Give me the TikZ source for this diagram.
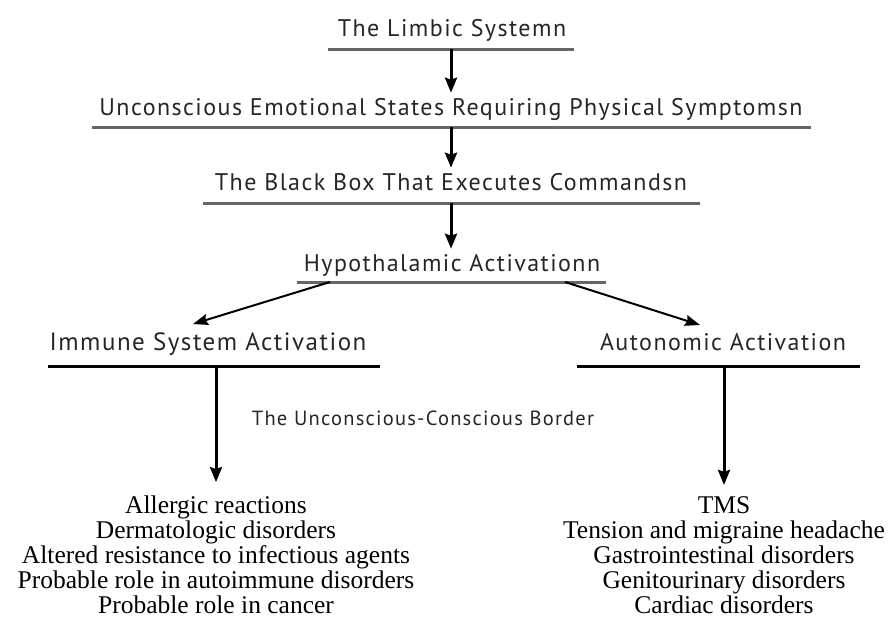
\documentclass[tikz,border=0pt]{standalone}
\usepackage{fontspec}
\setmainfont{Liberation Serif}
\newfontfamily\headfont[LetterSpace=6]{PT Sans}
\usetikzlibrary{arrows.meta,positioning}
\tikzset{
  head/.style={font=\headfont\fontsize{24}{28}\selectfont, inner sep=0pt, anchor=base, text=black!85},
  greybar/.style={line width=3pt, draw=black!60},
  blackbar/.style={line width=3pt, draw=black},
  flow/.style={line width=3pt, -{Stealth[length=15pt,width=12pt,inset=2pt]}},
  slant/.style={line width=2pt, -{Stealth[length=15pt,width=11pt,inset=2pt]}},
  effects/.style={font=\fontsize{25.5}{25}\selectfont, align=center, inner sep=0pt, anchor=base}
}
\begin{document}
\begin{tikzpicture}[x=1pt,y=-1pt]
  \useasboundingbox (0,0) rectangle (889,635);
  % headings
  \node[head] (limbic) at (452,36) {The Limbic Systemn};
  \node[head] (emot) at (451,115) {Unconscious Emotional States Requiring Physical Symptomsn};
  \node[head] (blackbox) at (451,190) {The Black Box That Executes Commandsn};
  \node[head] (hypo) at (452,271) {Hypothalamic Activationn};
  \node[head, font=\headfont\fontsize{25}{28}\selectfont] (immune) at (208,350) {Immune System Activation};
  \node[head] (auto) at (723,350) {Autonomic Activation};
  \node[head, font=\headfont\fontsize{20.5}{24}\selectfont] (border) at (423,425) {The Unconscious-Conscious Border};
  % underlines
  \coordinate (limbicbar) at (451,49);
  \coordinate (emotbar) at (451,127);
  \coordinate (blackbar) at (451,203);
  \coordinate (hypobarl) at (330,282);
  \coordinate (hypobarr) at (565,282);
  \coordinate (immunebar) at (216,366);
  \coordinate (autobar) at (724,366);
  \draw[greybar] (328,49) -- (574,49);
  \draw[greybar] (92,127) -- (811,127);
  \draw[greybar] (203,203) -- (700,203);
  \draw[greybar] (297,282) -- (606,282);
  \draw[blackbar] (48,366) -- (380,366);
  \draw[blackbar] (577,366) -- (860,366);
  % effect lists (base = last line)
  \node[effects] (immlist) at (216,613) {Allergic reactions\\Dermatologic disorders\\Altered resistance to infectious agents\\Probable role in autoimmune disorders\\Probable role in cancer};
  \node[effects] (autolist) at (724,613) {TMS\\Tension and migraine headache\\Gastrointestinal disorders\\Genitourinary disorders\\Cardiac disorders};
  % arrows
  \draw[flow] (limbicbar) -- ([yshift=5pt]emot.north -| limbicbar);
  \draw[flow] (emotbar) -- ([yshift=5pt]blackbox.north -| emotbar);
  \draw[flow] (blackbar) -- ([yshift=5pt]hypo.north -| blackbar);
  \draw[slant] (hypobarl) -- (193,324);
  \draw[slant] (hypobarr) -- (700,325);
  \draw[flow] (immunebar) -- ([yshift=13pt]immlist.north -| immunebar);
  \draw[flow] (autobar) -- ([yshift=11pt]autolist.north -| autobar);
\end{tikzpicture}
\end{document}
